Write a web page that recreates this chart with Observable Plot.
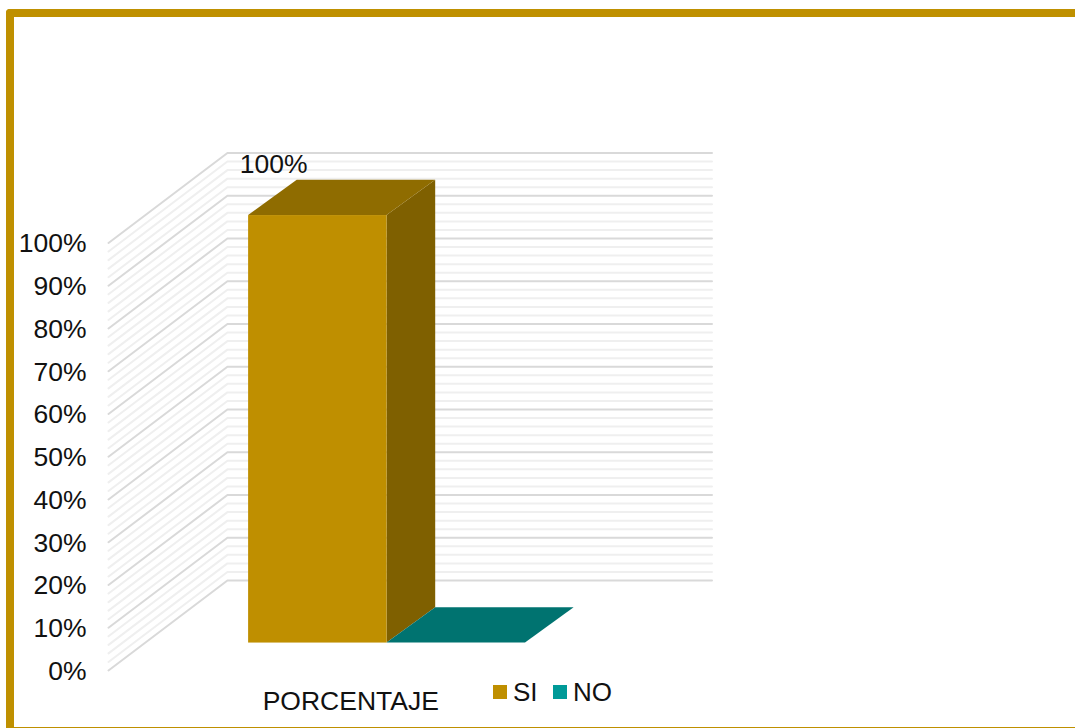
<!DOCTYPE html>
<html>
<head>
<meta charset="utf-8">
<script src="https://cdn.jsdelivr.net/npm/d3@7"></script>
<script src="https://cdn.jsdelivr.net/npm/@observablehq/plot@0.6"></script>
<style>
html,body{margin:0;padding:0;background:#fff;overflow:hidden}
#page{position:relative;width:1075px;height:728px;overflow:hidden;font-family:"Liberation Sans",Arial,sans-serif;color:#111}
#page svg{position:absolute;left:0;top:0;background:transparent}
#frame{position:absolute;left:6px;top:9px;width:1100px;height:709.5px;border-style:solid;border-color:#bf9000;border-width:8px 0 2px 8px;border-radius:4px 0 0 0;box-sizing:content-box}
.lg{position:absolute;top:685px;width:14px;height:14px}
.lt{position:absolute;top:677px;font-size:26px;line-height:30px}
</style>
</head>
<body>
<div id="page"><div id="frame"></div></div>
<script>
const categories = ["SI", "NO"];
const values = [100, 0];
const axisCategory = "PORCENTAJE";
const yTicks = [0, 10, 20, 30, 40, 50, 60, 70, 80, 90, 100];
const faceColors = ["#bf8f00", "#007370"];
const topColors = ["#8f6c00", "#007370"];
const sideColors = ["#7f6000", "#005f5c"];
const legendColors = ["#bf8f00", "#009a98"];

// oblique 3D projection, in scale units: one x unit is one bar width
const wallDx = 0.859, wallDv = 21.05;   // full floor depth
const barFront = 0.305, barBack = 0.697, barBackX = 0.714;  // bar's depth range
const floorWidth = 3.5, gapWidth = 0.75;
const P = (x, v, d, dx = d) => ({x: x + dx * wallDx, y: v + d * wallDv});

const minor = d3.range(0, 101, 2);
const gridLines = minor.flatMap(v => [
  {...P(0, v, 0), v}, {...P(0, v, 1), v}, {...P(floorWidth, v, 1), v}
]);
const isMajor = v => v % 10 === 0;

const bars = categories.map((c, i) => ({c, i, v: values[i], x0: gapWidth + i, x1: gapWidth + i + 1}));

function sideFace(b) {
  const a = P(b.x1, 0, barFront), e = P(b.x1, 0, barBack, barBackX);
  const at = P(b.x1, b.v, barFront), et = P(b.x1, b.v, barBack, barBackX);
  return [{x: a.x, y1: a.y, y2: at.y, c: b.i}, {x: e.x, y1: e.y, y2: et.y, c: b.i}];
}
function topFace(b) {
  const a = P(b.x0, b.v, barFront), e = P(b.x0, b.v, barBack, barBackX);
  const a2 = P(b.x1, b.v, barFront), e2 = P(b.x1, b.v, barBack, barBackX);
  return [{y: a.y, x1: a.x, x2: a2.x, c: b.i}, {y: e.y, x1: e.x, x2: e2.x, c: b.i}];
}
const front = bars.map(b => {
  const a = P(b.x0, 0, barFront), t = P(b.x1, b.v, barFront);
  return {x1: a.x, x2: t.x, y1: a.y, y2: t.y, c: b.i};
});

const chart = Plot.plot({
  width: 1075, height: 728,
  marginLeft: 108, marginRight: 363.5, marginTop: 152.5, marginBottom: 58,
  x: {domain: [0, floorWidth + wallDx], axis: null},
  y: {domain: [0, 100 + wallDv], axis: null},
  style: {fontFamily: '"Liberation Sans",Arial,sans-serif', fontSize: "26.5px", color: "#111", background: "transparent"},
  marks: [
    Plot.line(gridLines.filter(d => !isMajor(d.v)), {x: "x", y: "y", z: "v", stroke: "#efefef", strokeWidth: 2, curve: "linear"}),
    Plot.line(gridLines.filter(d => isMajor(d.v)), {x: "x", y: "y", z: "v", stroke: "#d9d9d9", strokeWidth: 2, curve: "linear"}),
    Plot.areaY(bars.flatMap(sideFace), {x: "x", y1: "y1", y2: "y2", z: "c", fill: d => sideColors[d.c]}),
    Plot.areaX(bars.flatMap(topFace), {y: "y", x1: "x1", x2: "x2", z: "c", fill: d => topColors[d.c]}),
    Plot.rect(front.filter(d => d.y2 > d.y1), {x1: "x1", x2: "x2", y1: "y1", y2: "y2", fill: d => faceColors[d.c]}),
    Plot.axisY({ticks: yTicks, tickFormat: d => d + "%", tickSize: 0, tickPadding: 22, anchor: "left", label: null, fontSize: 26.5, fill: "#111", dy: 1}),
    Plot.axisX({ticks: [floorWidth / 2], tickFormat: () => axisCategory, tickSize: 0, tickPadding: 21, anchor: "bottom", label: null, fontSize: 26.5, fill: "#111"}),
    Plot.text(bars.filter(b => b.v > 0), {x: b => b.x0 + 0.5, y: "v", text: b => b.v + "%", dx: -8, dy: -78, fontSize: 26.5, fill: "#111"})
  ]
});
const page = document.getElementById("page");
page.appendChild(chart);

const legendX = [[493, 513], [553, 573]];
categories.forEach((c, i) => {
  const s = document.createElement("div");
  s.className = "lg"; s.style.left = legendX[i][0] + "px"; s.style.background = legendColors[i];
  const t = document.createElement("div");
  t.className = "lt"; t.style.left = legendX[i][1] + "px"; t.textContent = c;
  page.append(s, t);
});
</script>
</body>
</html>
